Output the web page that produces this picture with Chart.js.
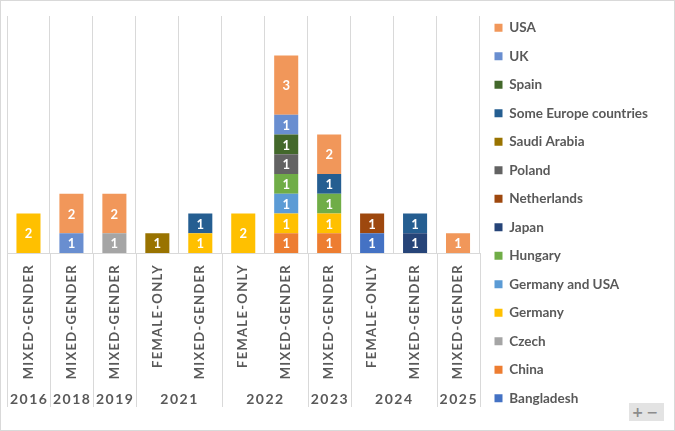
<!DOCTYPE html>
<html>
<head>
<meta charset="utf-8">
<script src="https://cdn.jsdelivr.net/npm/chart.js@4.4.1/dist/chart.umd.min.js"></script>
<style>
  body { margin: 0; background: #fff; }
  #wrap { position: relative; width: 675px; height: 431px; }
  #zoomBtn {
    position: absolute; left: 629px; top: 403px; width: 35px; height: 18px;
    background: #e3e3e3; color: #8c8c8c; font: bold 14px 'DejaVu Sans', sans-serif;
    line-height: 18px; text-align: center; letter-spacing: 3px;
  }
</style>
</head>
<body>
<div id="wrap">
  <canvas id="myChart"></canvas>
  <div id="zoomBtn">+−</div>
</div>
<script>
const categories = [
  'MIXED-GENDER', 'MIXED-GENDER', 'MIXED-GENDER',
  'FEMALE-ONLY', 'MIXED-GENDER',
  'FEMALE-ONLY', 'MIXED-GENDER',
  'MIXED-GENDER',
  'FEMALE-ONLY', 'MIXED-GENDER',
  'MIXED-GENDER'
];
const years = ['2016', '2018', '2019', '2021', '2021', '2022', '2022', '2023', '2024', '2024', '2025'];

// stacking order, bottom first
const countries = [
  'Bangladesh', 'China', 'Czech', 'Germany', 'Germany and USA', 'Hungary', 'Japan',
  'Netherlands', 'Poland', 'Saudi Arabia', 'Some Europe countries', 'Spain', 'UK', 'USA'
];
const bangladesh = [null, null, null, null, null, null, null, null, 1, null, null];
const china      = [null, null, null, null, null, null, 1, 1, null, null, null];
const czech      = [null, null, 1, null, null, null, null, null, null, null, null];
const germany    = [2, null, null, null, 1, 2, 1, 1, null, null, null];
const germanyUsa = [null, null, null, null, null, null, 1, null, null, null, null];
const hungary    = [null, null, null, null, null, null, 1, 1, null, null, null];
const japan      = [null, null, null, null, null, null, null, null, null, 1, null];
const netherlands= [null, null, null, null, null, null, null, null, 1, null, null];
const poland     = [null, null, null, null, null, null, 1, null, null, null, null];
const saudi      = [null, null, null, 1, null, null, null, null, null, null, null];
const someEurope = [null, null, null, null, 1, null, null, 1, null, 1, null];
const spain      = [null, null, null, null, null, null, 1, null, null, null, null];
const uk         = [null, 1, null, null, null, null, 1, null, null, null, null];
const usa        = [null, 2, 2, null, null, null, 3, 2, null, null, 1];

const seriesValues = [bangladesh, china, czech, germany, germanyUsa, hungary, japan,
  netherlands, poland, saudi, someEurope, spain, uk, usa];
const colors = ['#4472C4', '#ED7D31', '#A5A5A5', '#FFC000', '#5B9BD5', '#70AD47', '#264478',
  '#9E480E', '#636363', '#997300', '#255E91', '#43682B', '#698ED0', '#F1975A'];

const textGray = '#595959';
const lineGray = '#D9D9D9';
const fontFamily = 'Lato, "Open Sans", sans-serif';

const data = {
  labels: categories,
  datasets: countries.map((name, i) => ({
    label: name,
    data: seriesValues[i],
    backgroundColor: colors[i],
    borderWidth: 0,
    categoryPercentage: 1,
    barPercentage: 0.56
  }))
};

const barLabels = {
  id: 'barLabels',
  afterDatasetsDraw(chart) {
    const ctx = chart.ctx;
    ctx.save();
    ctx.font = 'bold 13px ' + fontFamily;
    ctx.fillStyle = '#fff';
    ctx.textAlign = 'center';
    ctx.textBaseline = 'middle';
    chart.data.datasets.forEach((ds, di) => {
      const meta = chart.getDatasetMeta(di);
      meta.data.forEach((bar, i) => {
        const v = ds.data[i];
        if (v == null) return;
        ctx.fillText(String(v), bar.x, (bar.y + bar.base) / 2 + 1);
      });
    });
    ctx.restore();
    // spaced capitals for the x tick labels drawn next
    ctx.letterSpacing = '1.3px';
  },
  afterDraw(chart) {
    const ctx = chart.ctx;
    const x = chart.scales.x;
    const bottom = chart.chartArea.bottom;
    ctx.save();
    // group separators below the plot
    const edges = [x.left];
    for (let i = 1; i < years.length; i++) {
      if (years[i] !== years[i - 1]) {
        edges.push((x.getPixelForValue(i - 1) + x.getPixelForValue(i)) / 2);
      }
    }
    edges.push(x.right);
    ctx.strokeStyle = lineGray;
    ctx.lineWidth = 1;
    ctx.beginPath();
    edges.forEach(e => {
      const px = Math.round(e) + 0.5;
      ctx.moveTo(px, bottom);
      ctx.lineTo(px, bottom + 154);
    });
    ctx.stroke();
    // year labels
    ctx.font = 'bold 14px ' + fontFamily;
    ctx.letterSpacing = '1.5px';
    ctx.fillStyle = textGray;
    ctx.textAlign = 'center';
    ctx.textBaseline = 'middle';
    let start = 0;
    for (let i = 1; i <= years.length; i++) {
      if (i === years.length || years[i] !== years[start]) {
        const cx = (x.getPixelForValue(start) + x.getPixelForValue(i - 1)) / 2;
        ctx.fillText(years[start], cx + 0.75, bottom + 146);
        start = i;
      }
    }
    ctx.restore();
    ctx.letterSpacing = '0px';
    // outer frame
    ctx.save();
    ctx.strokeStyle = lineGray;
    ctx.strokeRect(0.5, 0.5, chart.width - 1, chart.height - 1);
    ctx.restore();
  }
};

const config = {
  type: 'bar',
  data: data,
  options: {
    responsive: true,
    maintainAspectRatio: false,
    animation: false,
    layout: {
      padding: { left: 7, right: 17, top: 0, bottom: 5 }
    },
    scales: {
      x: {
        stacked: true,
        grid: {
          offset: true,
          color: lineGray,
          drawTicks: false
        },
        border: { display: true, color: lineGray },
        ticks: {
          z: 1,
          minRotation: 90,
          maxRotation: 90,
          autoSkip: false,
          padding: 11,
          color: textGray,
          font: { family: fontFamily, size: 13, weight: 'bold' }
        },
        afterFit(scale) {
          scale.height = 173;
        }
      },
      y: {
        stacked: true,
        display: false,
        min: 0,
        max: 12
      }
    },
    plugins: {
      title: {
        display: true,
        text: '',
        fullSize: false,
        font: { size: 1, lineHeight: 1 },
        padding: { top: 15, bottom: 0 }
      },
      legend: {
        display: true,
        position: 'right',
        align: 'center',
        reverse: true,
        labels: {
          boxWidth: 8,
          boxHeight: 8,
          padding: 15,
          color: textGray,
          font: { family: fontFamily, size: 13.5, weight: 'bold' }
        }
      },
      tooltip: { enabled: false }
    }
  },
  plugins: [barLabels]
};

var myChart = new Chart(
  document.getElementById('myChart'),
  config
);
</script>
</body>
</html>
